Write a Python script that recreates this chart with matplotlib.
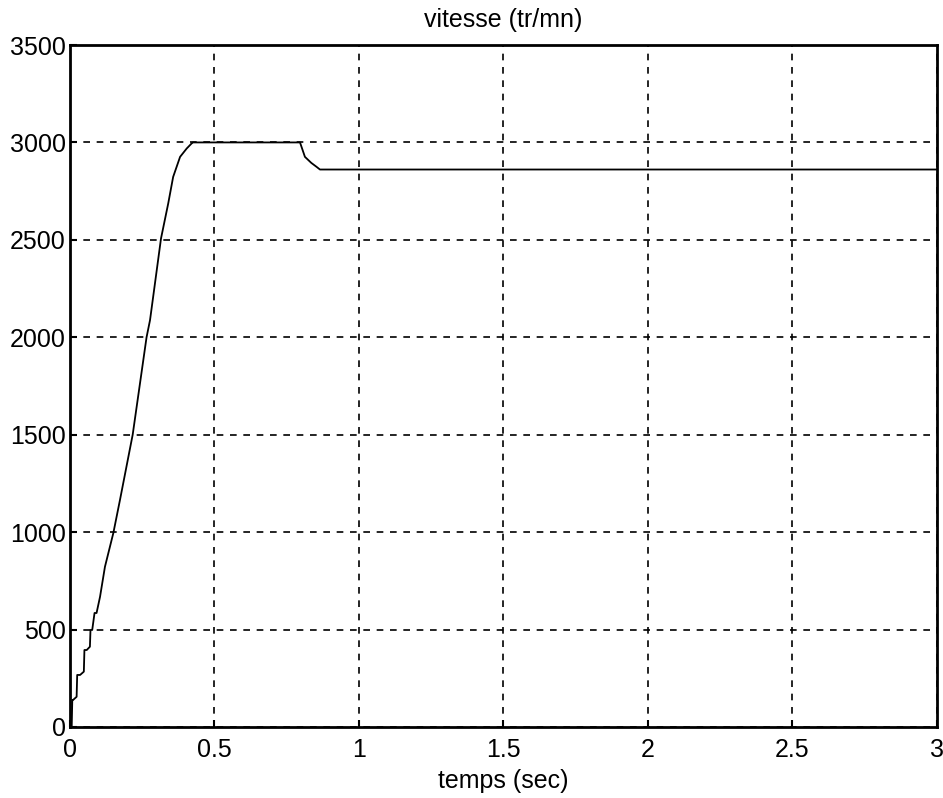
import matplotlib
matplotlib.use("Agg")
import matplotlib.pyplot as plt

plt.rcParams['font.family'] = ['Liberation Sans', 'DejaVu Sans']

# vitesse
temps = [0.0, 0.006, 0.008, 0.011, 0.023, 0.025, 0.035, 0.048, 0.050, 0.058,
         0.069, 0.071, 0.077, 0.085, 0.092, 0.104, 0.121, 0.150, 0.173,
         0.217, 0.265, 0.277, 0.315, 0.340, 0.357, 0.381, 0.404, 0.421,
         0.426, 0.796, 0.813, 0.835, 0.853, 0.865, 3.0]
vitesse = [0, 0, 139, 139, 155, 267, 267, 284, 395, 395,
           412, 498, 498, 585, 585, 668, 822, 995, 1165,
           1500, 2000, 2088, 2507, 2687, 2823, 2926, 2969, 2995,
           3000, 3000, 2926, 2895, 2875, 2861, 2861]

fig = plt.figure(figsize=(9.43, 7.98), dpi=100)
ax = fig.add_axes([0.0742, 0.089, 0.9194, 0.8546])

ax.plot(temps, vitesse, color='black', linewidth=1.3)

ax.set_xlim(0, 3)
ax.set_ylim(0, 3500)
ax.set_xticks([0, 0.5, 1, 1.5, 2, 2.5, 3])
ax.set_xticklabels(['0', '0.5', '1', '1.5', '2', '2.5', '3'])
ax.set_yticks(range(0, 3501, 500))

ax.grid(True, color='black', linestyle=(0, (4, 4)), linewidth=1.2)
ax.tick_params(direction='in', length=5, width=1.5, labelsize=18, pad=3)
ax.tick_params(axis='x', pad=8)
for s in ax.spines.values():
    s.set_linewidth(2)

ax.set_title('vitesse (tr/mn)', fontsize=18, pad=13)
ax.set_xlabel('temps (sec)', fontsize=18, labelpad=5)

plt.savefig('out.png', dpi=100)
